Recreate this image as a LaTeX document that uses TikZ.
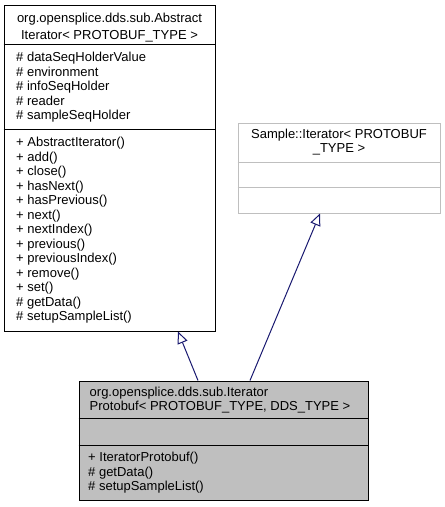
\documentclass[tikz,border=0pt]{standalone}
\usepackage{fontspec}
\setmainfont{Liberation Sans}
\usetikzlibrary{arrows.meta}
\definecolor{edgeblue}{HTML}{191970}
\definecolor{fillgrey}{HTML}{BFBFBF}
\begin{document}
\begin{tikzpicture}[x=1pt,y=-1pt,
  umlbox/.style={draw, line width=1pt, inner sep=0pt, rectangle},
  txt/.style={inner sep=0pt, font=\fontsize{13}{14.5}\selectfont},
  inh/.style={draw=edgeblue, line width=1pt, -{Triangle[open, length=12pt, width=10.5pt]}}]
\useasboundingbox (0,0) rectangle (445,507);
% box 1
\node[umlbox, minimum width=211pt, minimum height=326pt] (b1) at (109.5,168) {};
\draw[line width=1pt] ([yshift=-40pt]b1.north west) -- ([yshift=-40pt]b1.north east);
\draw[line width=1pt] ([yshift=-125pt]b1.north west) -- ([yshift=-125pt]b1.north east);
\node[txt, anchor=base] (h1a) at (109.5,22.7) {org.opensplice.dds.sub.Abstract};
\node[txt, anchor=base] (h1b) at (109.5,39.3) {Iterator< PROTOBUF\_TYPE >};
\foreach \t [count=\i from 0] in {\# dataSeqHolderValue,\# environment,\# infoSeqHolder,\# reader,\# sampleSeqHolder}
  \node[txt, anchor=base west] (at\i) at (16,61.7+14.5*\i) {\t};
\foreach \t [count=\i from 0] in {+ AbstractIterator(),+ add(),+ close(),+ hasNext(),+ hasPrevious(),+ next(),+ nextIndex(),+ previous(),+ previousIndex(),+ remove(),+ set(),\# getData(),\# setupSampleList()}
  \node[txt, anchor=base west] (m\i) at (16,146.7+14.5*\i) {\t};
% box 2
\node[umlbox, draw=fillgrey, minimum width=202pt, minimum height=90pt] (b2) at (339,168) {};
\draw[line width=1pt, fillgrey] ([yshift=-40pt]b2.north west) -- ([yshift=-40pt]b2.north east);
\draw[line width=1pt, fillgrey] ([yshift=-65pt]b2.north west) -- ([yshift=-65pt]b2.north east);
\node[txt, anchor=base] (h2a) at (339,138.3) {Sample::Iterator< PROTOBUF};
\node[txt, anchor=base] (h2b) at (339,152.7) {\_TYPE >};
% box 3
\node[umlbox, fill=fillgrey, minimum width=289pt, minimum height=119pt] (b3) at (223.5,440.5) {};
\draw[line width=1pt] ([yshift=-38pt]b3.north west) -- ([yshift=-38pt]b3.north east);
\draw[line width=1pt] ([yshift=-65pt]b3.north west) -- ([yshift=-65pt]b3.north east);
\node[txt, anchor=base west] (h3a) at (89.5,396.7) {org.opensplice.dds.sub.Iterator};
\node[txt, anchor=base west] (h3b) at (89.5,410.7) {Protobuf< PROTOBUF\_TYPE, DDS\_TYPE >};
\foreach \t [count=\i from 0] in {+ IteratorProtobuf(),\# getData(),\# setupSampleList()}
  \node[txt, anchor=base west] (n\i) at (88,461.7+14.3*\i) {\t};
% inheritance
\draw[inh] ([xshift=-25.5pt]b3.north) -- ([xshift=68.5pt]b1.south);
\draw[inh] ([xshift=26.5pt]b3.north) -- ([xshift=-19pt]b2.south);
\end{tikzpicture}
\end{document}
